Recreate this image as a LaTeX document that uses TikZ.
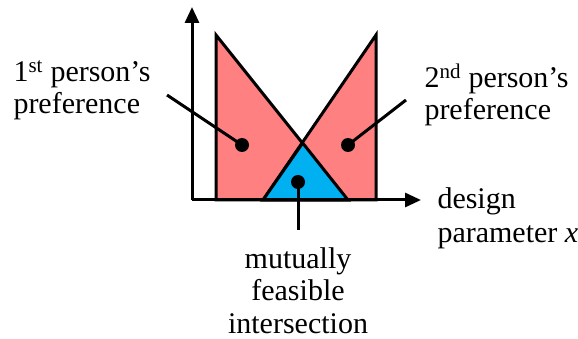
\documentclass[tikz,border=0pt]{standalone}
\usepackage{fontspec}
\setmainfont{Liberation Serif}
\usetikzlibrary{arrows.meta}
\definecolor{prefred}{HTML}{FF8080}
\definecolor{feasblue}{HTML}{00B0F0}
\tikzset{
  lbl/.style={font=\fontsize{30}{32.5}\selectfont, inner sep=0pt},
  dot/.style={circle, fill=black, inner sep=0pt, minimum size=14pt},
  axis/.style={-{Triangle[length=16pt,width=14pt]}},
}
\begin{document}
\begin{tikzpicture}[x=1pt,y=-1pt,line width=3pt]
\useasboundingbox (0,0) rectangle (578,339);
% preference regions
\filldraw[fill=prefred] (216,35) -- (216,200) -- (348,200) -- cycle;
\filldraw[fill=prefred] (376,35) -- (376,200) -- (263,200) -- cycle;
\filldraw[fill=feasblue] (263,200) -- (348,200) -- (302.7,143) -- cycle;
% axes
\coordinate (o) at (192,200);
\draw[axis] (o) -- (192,7);
\draw[axis] (o) -- (421,200);
% markers
\node[dot] (d1) at (242,145) {};
\node[dot] (d2) at (348,145) {};
\node[dot] (d3) at (298,182) {};
\coordinate (c1) at (167,95);
\coordinate (c2) at (406,100);
\coordinate (c3) at (298,230);
\draw (d1.center) -- (c1);
\draw (d2.center) -- (c2);
\draw (d3.center) -- (c3);
% labels (base = last line)
\node[lbl, align=left, anchor=base west] (lp) at (12,114) {1\textsuperscript{st} person’s\\preference};
\node[lbl, align=left, anchor=base west] (rp) at (423,120) {2\textsuperscript{nd} person’s\\preference};
\node[lbl, align=left, anchor=base west] (dx) at (436,242) {design\\[1.5pt]parameter \textit{x}};
\node[lbl, align=center, anchor=base] (mf) at (298,333) {mutually\\feasible\\intersection};
\end{tikzpicture}
\end{document}
